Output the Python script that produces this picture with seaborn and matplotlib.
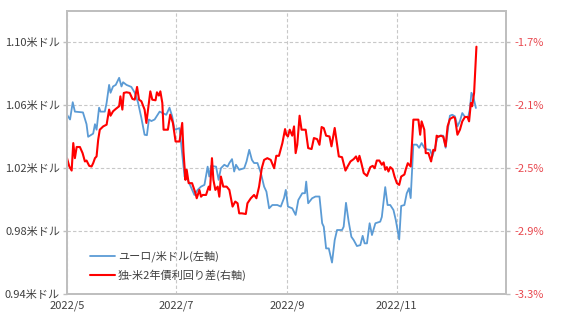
import numpy as np
import pandas as pd
import matplotlib
matplotlib.use("Agg")
import matplotlib.pyplot as plt
import seaborn as sns

# ---------------- data ----------------
start_date = "2022-05-01"

# EUR/USD (left axis): days since 2022-05-01, value
eur_days = [0.0, 1.7, 3.2, 4.4, 8.9, 10.9, 11.8, 14.6, 15.6, 16.5, 17.9, 18.7, 21.1, 22.1,
            23.5, 24.3, 25.7, 27.2, 29.1, 30.4, 31.3, 33.2, 35.9, 37.8, 39.6, 41.5, 43.3,
            44.6, 45.7, 47.1, 48.9, 51.7, 53.5, 55.4, 57.2, 58.7, 60.0, 62.8, 65.6, 67.4,
            71.1, 72.9, 74.8, 76.7, 78.5, 79.4, 80.4, 83.2, 84.6, 85.9, 87.8, 89.6, 90.6,
            92.1, 93.3, 94.3, 96.1, 98.9, 100.2, 101.7, 103.2, 104.4, 106.3, 108.2, 110.0,
            111.3, 112.8, 114.6, 117.4, 119.3, 121.1, 122.1, 123.3, 125.7, 127.6, 129.1,
            131.3, 132.8, 133.5, 134.6, 136.8, 138.7, 140.9, 142.4, 143.3, 144.6, 146.1,
            147.9, 149.4, 150.7, 153.5, 154.4, 155.7, 157.2, 158.7, 160.0, 161.8, 163.7,
            165.0, 166.1, 167.4, 168.9, 170.2, 172.1, 174.8, 175.7, 177.6, 178.9, 180.4,
            182.2, 183.5, 185.4, 186.5, 188.3, 189.6, 190.9, 191.8, 193.3, 195.2, 196.5,
            197.9, 199.4, 200.7, 202.6, 203.9, 205.4, 206.8, 208.2, 210.0, 211.3, 212.8,
            213.7, 215.0, 216.5, 217.9, 219.3, 220.6, 222.1, 223.9, 224.8, 225.7, 226.7,
            228.2]
eur_usd = [1.054, 1.051, 1.062, 1.056, 1.0555, 1.048, 1.040, 1.042, 1.048, 1.0445, 1.0585,
           1.056, 1.056, 1.0615, 1.073, 1.068, 1.072, 1.073, 1.0775, 1.072, 1.0747, 1.073,
           1.0717, 1.068, 1.062, 1.052, 1.0413, 1.041, 1.051, 1.050, 1.051, 1.056, 1.055,
           1.054, 1.0585, 1.053, 1.0445, 1.0455, 1.0147, 1.0126, 1.003, 1.0062, 1.0083,
           1.0094, 1.021, 1.0147, 1.0215, 1.021, 1.0126, 1.020, 1.0222, 1.021, 1.0233,
           1.0258, 1.0179, 1.0222, 1.019, 1.020, 1.0243, 1.0317, 1.0253, 1.0233, 1.0233,
           1.0169, 1.0083, 1.0051, 0.9945, 0.9966, 0.9966, 0.9956, 1.001, 1.0062, 0.9956,
           0.9945, 0.9903, 0.9998, 1.0041, 1.0041, 1.0115, 0.9977, 1.0009, 1.002, 1.002,
           0.985, 0.9828, 0.969, 0.969, 0.960, 0.9743, 0.9807, 0.9807, 0.9828, 0.998,
           0.986, 0.9764, 0.9743, 0.9705, 0.9711, 0.977, 0.9722, 0.9722, 0.985, 0.9775,
           0.985, 0.986, 0.989, 1.008, 0.9966, 0.9966, 0.9934, 0.987, 0.9747, 0.996,
           0.9966, 1.004, 1.0073, 1.001, 1.035, 1.035, 1.033, 1.036, 1.033, 1.032, 1.0317,
           1.0275, 1.033, 1.040, 1.0407, 1.0407, 1.033, 1.0466, 1.0534, 1.054, 1.053,
           1.0466, 1.050, 1.0551, 1.0526, 1.0526, 1.0573, 1.068, 1.0657, 1.0583]

# Germany - US 2y yield spread (right axis, %)
spr_days = [0.0, 1.3, 2.6, 3.5, 4.4, 5.4, 7.2, 8.7, 10.0, 10.9, 12.4, 13.7, 14.6, 15.6,
            16.5, 17.4, 18.3, 20.2, 22.1, 23.5, 24.3, 25.7, 27.2, 29.1, 29.8, 30.9, 31.7,
            33.2, 35.0, 36.5, 37.8, 39.1, 40.2, 41.5, 43.3, 44.3, 45.7, 46.5, 47.6, 49.4,
            50.2, 51.3, 52.1, 53.2, 53.9, 56.3, 57.6, 59.1, 60.6, 62.8, 64.3, 65.0, 66.1,
            66.8, 67.9, 69.8, 71.7, 72.4, 73.9, 74.8, 75.7, 77.6, 79.1, 79.8, 80.9, 81.7,
            82.8, 84.1, 85.0, 85.9, 87.2, 89.1, 90.6, 92.4, 93.9, 95.2, 96.1, 97.6, 99.8,
            100.7, 102.6, 104.4, 105.7, 107.2, 108.7, 110.0, 111.8, 113.7, 115.6, 116.8,
            118.3, 120.2, 121.7, 122.4, 123.3, 124.3, 125.7, 126.7, 127.6, 128.5, 129.8,
            130.9, 133.2, 134.6, 136.5, 137.8, 139.6, 140.9, 142.1, 143.3, 144.6, 146.5,
            147.6, 149.4, 151.7, 153.5, 155.4, 156.8, 158.2, 160.0, 161.3, 162.4, 163.2,
            164.3, 165.6, 167.4, 169.3, 170.6, 171.7, 172.9, 174.3, 175.7, 176.7, 177.6,
            178.5, 179.4, 180.4, 181.7, 182.8, 184.1, 185.4, 186.5, 188.3, 189.1, 190.2,
            191.8, 193.3, 196.1, 197.1, 197.9, 199.4, 200.2, 201.7, 203.2, 204.4, 205.4,
            206.3, 207.2, 208.7, 210.0, 211.3, 212.4, 213.7, 215.6, 216.5, 217.9, 219.3,
            220.6, 222.1, 223.5, 224.4, 225.4, 226.1, 227.2, 228.5]
spread = [-2.436, -2.489, -2.515, -2.340, -2.436, -2.365, -2.365, -2.404, -2.457, -2.451,
          -2.485, -2.489, -2.468, -2.436, -2.425, -2.319, -2.255, -2.234, -2.223, -2.127,
          -2.166, -2.138, -2.123, -2.106, -2.043, -2.127, -2.021, -2.017, -2.021, -2.059,
          -2.064, -1.983, -2.064, -2.074, -2.127, -2.212, -2.085, -2.011, -2.064, -2.068,
          -2.017, -2.038, -2.011, -2.085, -2.255, -2.255, -2.159, -2.212, -2.330, -2.330,
          -2.212, -2.393, -2.574, -2.510, -2.595, -2.595, -2.659, -2.691, -2.638, -2.681,
          -2.670, -2.670, -2.617, -2.638, -2.436, -2.574, -2.638, -2.617, -2.681, -2.553,
          -2.617, -2.617, -2.638, -2.744, -2.712, -2.723, -2.787, -2.787, -2.791, -2.723,
          -2.691, -2.670, -2.691, -2.617, -2.500, -2.447, -2.436, -2.447, -2.500, -2.421,
          -2.421, -2.340, -2.251, -2.287, -2.298, -2.255, -2.293, -2.234, -2.404, -2.351,
          -2.166, -2.255, -2.255, -2.372, -2.378, -2.308, -2.315, -2.351, -2.238, -2.245,
          -2.293, -2.298, -2.361, -2.244, -2.425, -2.430, -2.515, -2.485, -2.457, -2.442,
          -2.425, -2.457, -2.421, -2.468, -2.531, -2.549, -2.493, -2.485, -2.500, -2.451,
          -2.451, -2.478, -2.463, -2.510, -2.493, -2.521, -2.493, -2.506, -2.553, -2.595,
          -2.606, -2.553, -2.540, -2.506, -2.468, -2.489, -2.191, -2.191, -2.287, -2.202,
          -2.255, -2.404, -2.404, -2.457, -2.383, -2.388, -2.293, -2.300, -2.293, -2.300,
          -2.361, -2.234, -2.187, -2.174, -2.180, -2.287, -2.255, -2.202, -2.174, -2.174,
          -2.202, -2.085, -2.106, -2.021, -1.727]

x_tick_dates = ["2022-05-01", "2022-07-01", "2022-09-01", "2022-11-01"]
x_tick_labels = ["2022/5", "2022/7", "2022/9", "2022/11"]
left_ticks = [0.94, 0.98, 1.02, 1.06, 1.10]
left_tick_labels = ["0.94米ドル", "0.98米ドル", "1.02米ドル", "1.06米ドル", "1.10米ドル"]
right_ticks = [-3.3, -2.9, -2.5, -2.1, -1.7]
right_tick_labels = ["-3.3%", "-2.9%", "-2.5%", "-2.1%", "-1.7%"]
series_names = ["ユーロ/米ドル(左軸)", "独-米2年債利回り差(右軸)"]

# ---------------- frames ----------------
t0 = pd.Timestamp(start_date)
df_eur = pd.DataFrame({"date": t0 + pd.to_timedelta(eur_days, unit="D"), "v": eur_usd})
df_spr = pd.DataFrame({"date": t0 + pd.to_timedelta(spr_days, unit="D"), "v": spread})

# ---------------- style ----------------
sns.set_theme(style="white")
plt.rcParams["font.family"] = ["Noto Sans CJK JP", "DejaVu Sans"]

BLUE = "#5b9bd5"
RED = "#ff0000"
RED_TXT = "#e8484f"
SPINE = "#bfbfbf"
GRID = "#c8c8c8"
TXT = "#404040"

fig = plt.figure(figsize=(5.61, 3.22), dpi=100)
ax = fig.add_axes([67 / 561, 28 / 322, 439 / 561, 283 / 322])
ax2 = ax.twinx()

sns.lineplot(data=df_eur, x="date", y="v", ax=ax, color=BLUE, linewidth=1.3,
             label=series_names[0], legend=False)
sns.lineplot(data=df_spr, x="date", y="v", ax=ax2, color=RED, linewidth=1.5,
             label=series_names[1], legend=False)

ax.set_xlim(pd.Timestamp("2022-05-01"), pd.Timestamp("2023-01-01"))
ax.set_ylim(0.94, 1.12)
ax2.set_ylim(-3.3, -1.5)

ax.set_xticks(pd.to_datetime(x_tick_dates))
ax.set_xticklabels(x_tick_labels)
ax.set_yticks(left_ticks)
ax.set_yticklabels(left_tick_labels)
ax2.set_yticks(right_ticks)
ax2.set_yticklabels(right_tick_labels)

ax.set_xlabel("")
ax.set_ylabel("")
ax2.set_xlabel("")
ax2.set_ylabel("")

ax.grid(True, axis="both", color=GRID, linestyle=(0, (3, 2)), linewidth=0.8)
ax2.grid(False)
ax.set_axisbelow(True)

for a in (ax, ax2):
    for s in a.spines.values():
        s.set_color(SPINE)
        s.set_linewidth(1.3)

ax.tick_params(axis="x", colors=SPINE, labelcolor=TXT, labelsize=8, length=3, width=1, pad=2)
ax.tick_params(axis="y", colors=SPINE, labelcolor=TXT, labelsize=8, length=3, width=1, pad=2)
ax2.tick_params(axis="y", colors=SPINE, labelcolor=RED_TXT, labelsize=8, length=3, width=1, pad=3)

h1, l1 = ax.get_legend_handles_labels()
h2, l2 = ax2.get_legend_handles_labels()
leg = ax2.legend(h1 + h2, l1 + l2, loc="lower left", bbox_to_anchor=(0.03, 0.01),
                 frameon=False, fontsize=8, handlelength=2.2, handletextpad=0.3,
                 labelspacing=0.7, labelcolor=TXT)

fig.savefig("out.png", dpi=100, facecolor="white")
